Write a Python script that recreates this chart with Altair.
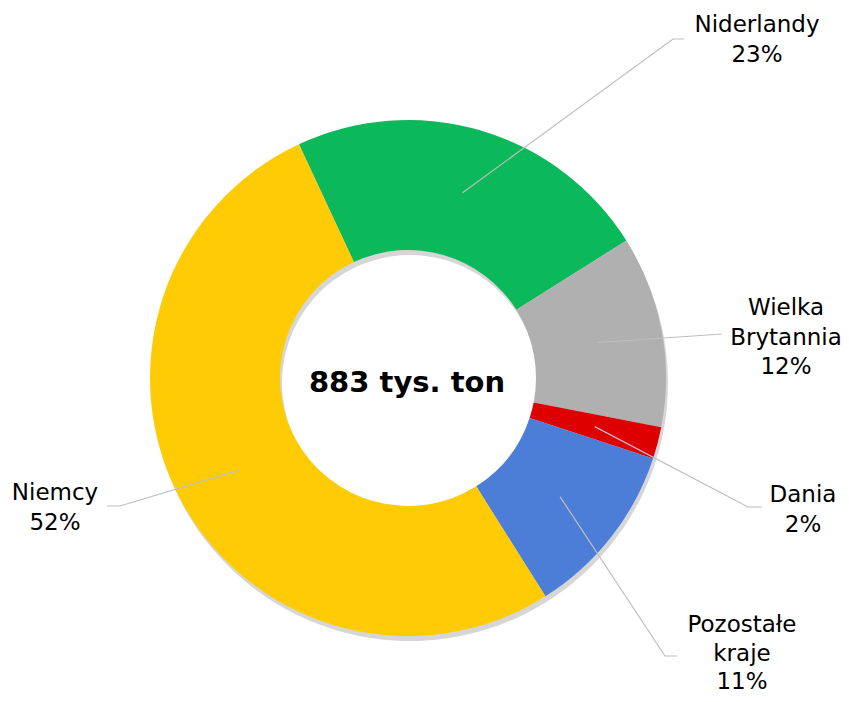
import math
import altair as alt
import pandas as pd

# ---- data ----
countries = ["Niderlandy", "Wielka Brytannia", "Dania", "Pozostałe kraje", "Niemcy"]
shares = [23, 12, 2, 11, 52]
label_texts = ["Niderlandy\n23%", "Wielka\nBrytannia\n12%", "Dania\n2%",
               "Pozostałe\nkraje\n11%", "Niemcy\n52%"]
center_text = "883 tys. ton"

# ---- style / layout ----
colors = ["#0CB95A", "#B0B0B0", "#DE0000", "#4C7ED8", "#FFCB05"]
W, H = 833, 686
CX, CY = 400, 370
R_OUT, R_IN = 258, 128
START = math.radians(-25)
ANCHOR_R = 193
# leader elbow and end points, first-line centres of label blocks (chart pixels)
elbow_x = [665, 714, 740, 657, 112]
elbow_y = [31, 326, 499, 648, 498]
end_x = [676, 714, 754, 669, 99]
end_y = [31, 326, 499, 648, 498]
label_x = [749, 778, 795, 734, 47]
label_y = [17, 300, 487, 617, 485]
line_heights = [29.5, 29.5, 29.5, 28.5, 29.5]

df = pd.DataFrame({"country": countries, "share": shares, "idx": range(len(countries))})

# leader lines: anchors from the slice mid-angles
total = sum(shares)
rows = []
cum = 0
for i, (c, s) in enumerate(zip(countries, shares)):
    mid = START + 2 * math.pi * (cum + s / 2) / total
    cum += s
    ax = CX + ANCHOR_R * math.sin(mid)
    ay = CY - ANCHOR_R * math.cos(mid)
    rows.append({"country": c, "k": 0, "px": ax, "py": ay})
    rows.append({"country": c, "k": 1, "px": elbow_x[i], "py": elbow_y[i]})
    rows.append({"country": c, "k": 2, "px": end_x[i], "py": end_y[i]})
lines_df = pd.DataFrame(rows)

labels_df = pd.DataFrame({"txt": label_texts, "px": label_x, "py": label_y, "lh": line_heights})
center_df = pd.DataFrame({"txt": [center_text]})

theta_scale = alt.Scale(domain=[0, total], range=[START, START + 2 * math.pi])

shadow = alt.Chart(df).mark_arc(outerRadius=R_OUT, innerRadius=R_IN, color="#000000", opacity=0.16).encode(
    theta=alt.Theta("share:Q", stack=True, scale=theta_scale),
    order=alt.Order("idx:Q"),
    x=alt.value(CX + 2), y=alt.value(CY + 5),
)

donut = alt.Chart(df).mark_arc(outerRadius=R_OUT, innerRadius=R_IN).encode(
    theta=alt.Theta("share:Q", stack=True, scale=theta_scale),
    color=alt.Color("country:N", scale=alt.Scale(domain=countries, range=colors), legend=None),
    order=alt.Order("idx:Q"),
    x=alt.value(CX), y=alt.value(CY),
)

leaders = alt.Chart(lines_df).mark_line(color="#BFBFBF", strokeWidth=1.2).encode(
    x=alt.X("px:Q", scale=None, axis=None),
    y=alt.Y("py:Q", scale=None, axis=None),
    detail="country:N",
    order="k:Q",
)

labels = alt.Chart(labels_df).mark_text(
    font="DejaVu Sans", fontSize=23, color="#000000", align="center", baseline="middle",
    lineBreak="\n", lineHeight={"expr": "datum.lh"},
).encode(
    x=alt.X("px:Q", scale=None, axis=None),
    y=alt.Y("py:Q", scale=None, axis=None),
    text="txt:N",
)

center = alt.Chart(center_df).mark_text(
    font="DejaVu Sans", fontSize=29, fontWeight="bold", color="#000000",
    align="center", baseline="middle",
).encode(x=alt.value(CX - 1), y=alt.value(CY + 5), text="txt:N")

chart = alt.layer(shadow, donut, leaders, labels, center).properties(
    width=W, height=H, padding=0, autosize=alt.AutoSizeParams(type="none")
).configure_view(stroke=None)

chart.save("out.html", embed_options={"renderer": "svg", "actions": False})
